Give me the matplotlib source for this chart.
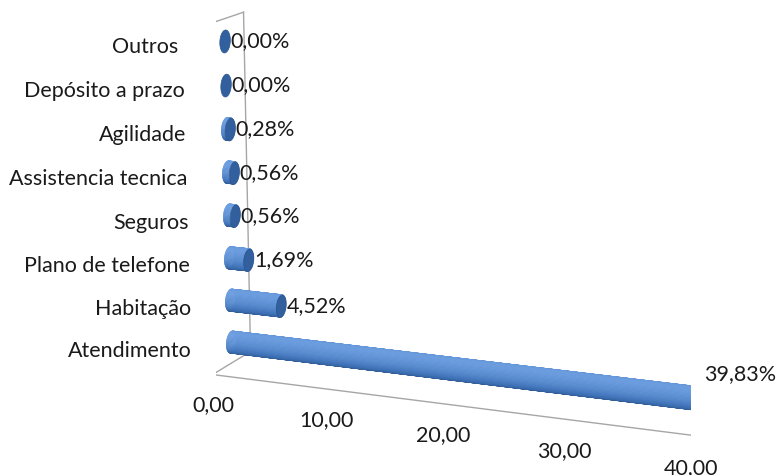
import numpy as np
import matplotlib
matplotlib.use("Agg")
import matplotlib.pyplot as plt
from mpl_toolkits.mplot3d import proj3d
from mpl_toolkits.mplot3d.art3d import Poly3DCollection

# categorias de baixo para cima
categorias = ["Atendimento", "Habitação", "Plano de telefone", "Seguros",
              "Assistencia tecnica", "Agilidade", "Depósito a prazo", "Outros "]
percentuais = [39.83, 4.52, 1.69, 0.56, 0.56, 0.28, 0.00, 0.00]
ticks_x = [0, 10, 20, 30, 40]
ticks_txt = ["0,00", "10,00", "20,00", "30,00", "40,00"]

plt.rcParams["font.family"] = ["Lato", "DejaVu Sans"]

caixa = (530, 90, 375)          # comprimento, profundidade, altura
n_cat = len(categorias)
raio = 12.0
ry = raio / caixa[1]
rz = raio / (caixa[2] / n_cat)

fig = plt.figure(figsize=(7.79, 4.75), dpi=100)
ax = fig.add_axes([0.082, 0.031, 1, 1], projection="3d", computed_zorder=False)
ax.set_proj_type("persp", focal_length=1.0)
ax.view_init(elev=14, azim=-68)
ax.set_box_aspect(caixa, zoom=1.31)
ax.set_xlim(0, 40)
ax.set_ylim(0, 1)
ax.set_zlim(0, n_cat)
ax.set_axis_off()

# parede esquerda e piso
cinza = "#A6A6A6"
for xs, ys, zs in [([0, 40], [0, 0], [0, 0]), ([0, 0], [0, 1], [0, 0]),
                   ([0, 40], [1, 1], [0, 0]), ([0, 0], [0, 0], [0, n_cat]),
                   ([0, 0], [1, 1], [0, n_cat]), ([0, 0], [0, 1], [n_cat, n_cat])]:
    ax.plot(xs, ys, zs, color=cinza, lw=1.0, zorder=1)

# cilindros
theta = np.linspace(0, 2 * np.pi, 61)
luz = np.array([-0.45, 0.89])
meio = theta[:-1] + np.diff(theta) / 2
t = (np.cos(meio) * luz[0] + np.sin(meio) * luz[1] + 1) / 2
paleta = np.array([[0x26, 0x4C, 0x80], [0x42, 0x76, 0xBC], [0x6C, 0x9E, 0xE0]]) / 255
cores = np.column_stack([np.interp(t, [0, 0.5, 1], paleta[:, k]) for k in range(3)])

for i, v in enumerate(percentuais):
    zc = i + 0.5
    ys = 0.5 + ry * np.cos(theta)
    zs = zc + rz * np.sin(theta)
    if v > 0:
        faixas = [[(0, ys[j], zs[j]), (v, ys[j], zs[j]),
                   (v, ys[j + 1], zs[j + 1]), (0, ys[j + 1], zs[j + 1])]
                  for j in range(len(theta) - 1)]
        corpo = Poly3DCollection(faixas, facecolors=cores, edgecolors=cores,
                                 linewidths=0.4, zorder=3 + i * 0.01)
        ax.add_collection3d(corpo)
    tampa = Poly3DCollection([list(zip(np.full_like(ys, v), ys, zs))],
                             facecolors="#32609E", edgecolors="#2B568F",
                             linewidths=0.5, zorder=4)
    ax.add_collection3d(tampa)

# textos posicionados a partir da projeção 3D
M = ax.get_proj()


def texto(x, y, z, s, **kw):
    px, py, _ = proj3d.proj_transform(x, y, z, M)
    ax.text2D(px, py, s, transform=ax.transData, fontsize=15.5,
              color="#1A1A1A", zorder=5, **kw)


maior = int(np.argmax(percentuais))
for i, v in enumerate(percentuais):
    zc = i + 0.5
    rotulo = f"{v:.2f}%".replace(".", ",")
    if i == maior:
        texto(v - 1.0, 1.0, zc + 0.25, rotulo, ha="left", va="center")
    else:
        texto(v + 0.5, 0.5, zc, rotulo, ha="left", va="center")
    texto(-1.8, 0, zc, categorias[i], ha="right", va="center")

for v, txt in zip(ticks_x, ticks_txt):
    texto(v, 0, -0.72, txt, ha="center", va="center")

fig.savefig("out.png", dpi=100)
